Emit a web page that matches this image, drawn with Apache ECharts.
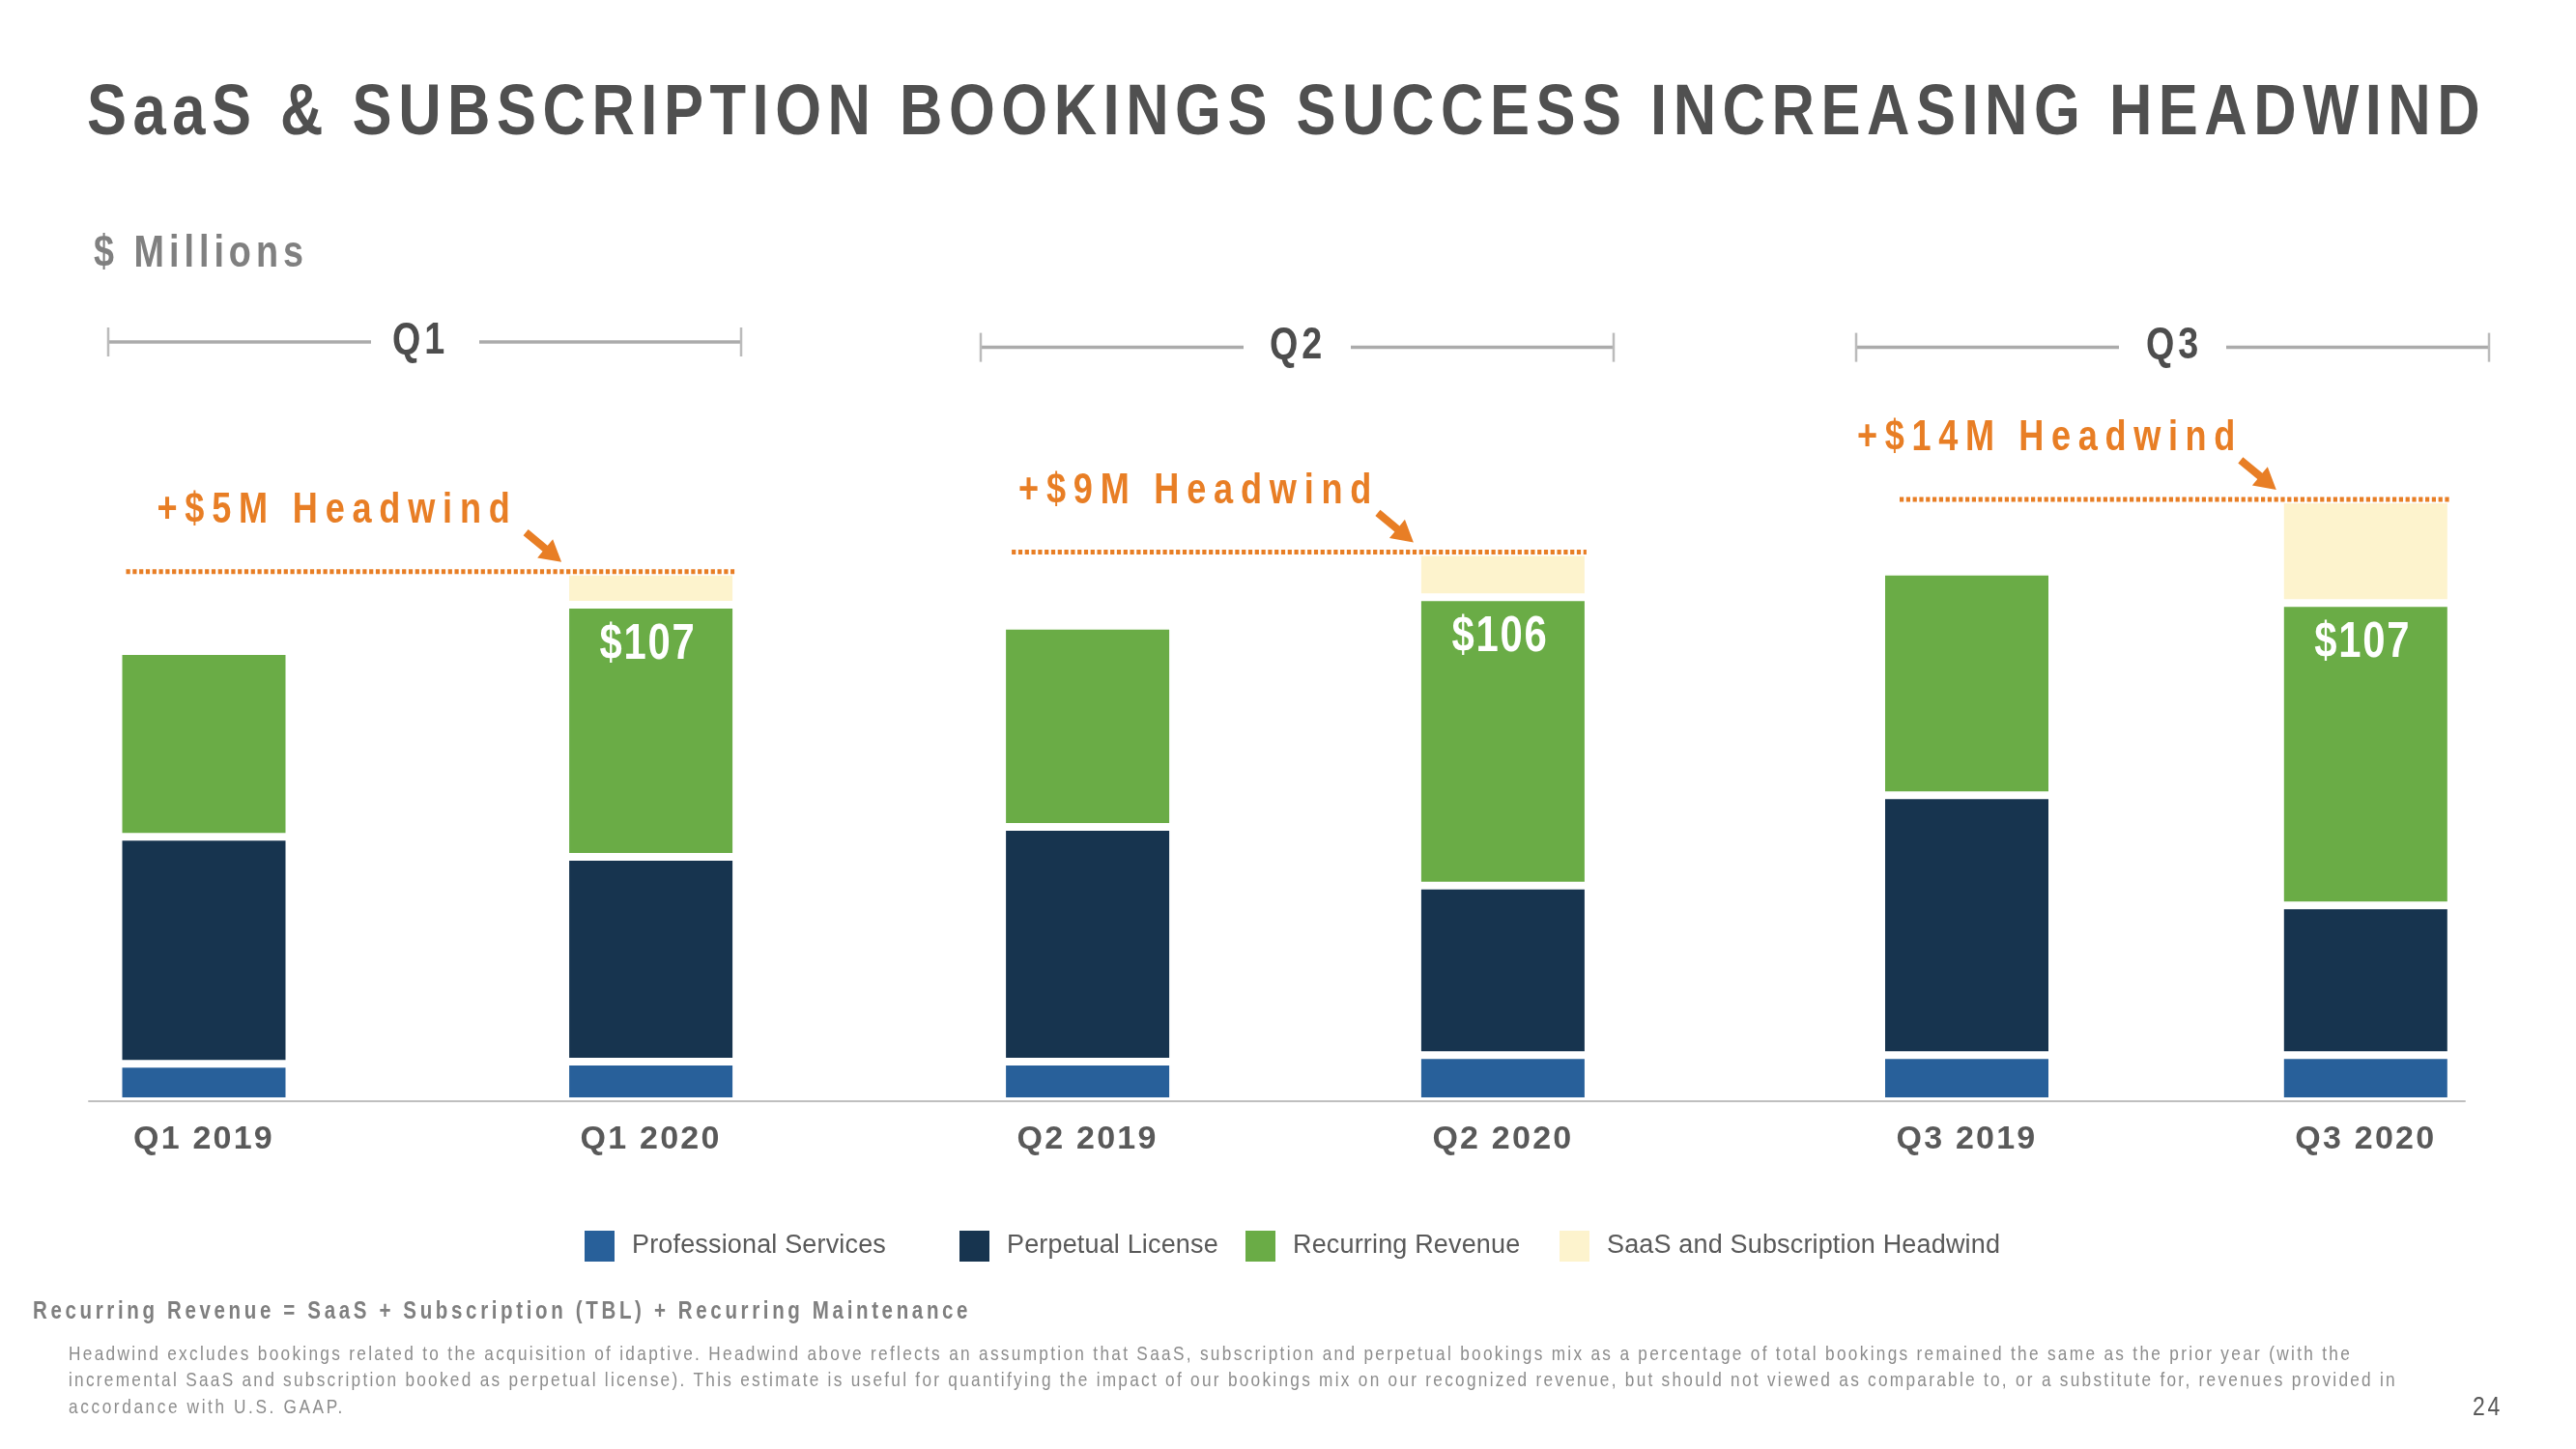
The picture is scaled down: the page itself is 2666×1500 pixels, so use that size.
<!DOCTYPE html>
<html><head><meta charset="utf-8">
<script src="https://cdn.jsdelivr.net/npm/echarts@6/dist/echarts.min.js"></script>
<style>html,body{margin:0;padding:0;background:#fff}#c{width:2666px;height:1500px}</style>
</head><body><div id="c"></div>
<script>
// letter-spacing support: a pseudo family name 'ls-N' in the font string sets canvas letterSpacing
(function(){
  var P = CanvasRenderingContext2D.prototype;
  var d = Object.getOwnPropertyDescriptor(P, 'font');
  if (!d || !d.set) return;
  Object.defineProperty(P, 'font', {
    configurable: true, enumerable: d.enumerable,
    get: function(){ return d.get.call(this); },
    set: function(v){
      d.set.call(this, v);
      var m = /ls-([\d.]+)/.exec(String(v));
      if ('letterSpacing' in this) this.letterSpacing = m ? (m[1] + 'px') : '0px';
    }
  });
})();

// ---------------- data ----------------
const categories = ['Q1 2019', 'Q1 2020', 'Q2 2019', 'Q2 2020', 'Q3 2019', 'Q3 2020'];
const quarters = ['Q1', 'Q2', 'Q3'];
const professionalServices = [8.0, 8.5, 8.5, 9.9, 9.9, 9.9];
const perpetualLicense = [48.7, 43.9, 50.3, 36.3, 55.7, 32.1];
const recurringRevenue = [39.8, 54.0, 43.1, 61.8, 47.9, 64.8];
const saasHeadwind = [null, 7.1, null, 9.7, null, 22.2];
const totalLabels = ['', '$107', '', '$106', '', '$107'];
const headwindLabels = ['+$5M Headwind', '+$9M Headwind', '+$14M Headwind'];
const seriesNames = ['Professional Services', 'Perpetual License', 'Recurring Revenue', 'SaaS and Subscription Headwind'];
const titleText = 'SaaS & SUBSCRIPTION BOOKINGS SUCCESS INCREASING HEADWIND';
const unitText = '$ Millions';
const definitionText = 'Recurring Revenue = SaaS + Subscription (TBL) + Recurring Maintenance';
const noteLines = [
  'Headwind excludes bookings related to the acquisition of idaptive. Headwind above reflects an assumption that SaaS, subscription and perpetual bookings mix as a percentage of total bookings remained the same as the prior year (with the',
  'incremental SaaS and subscription booked as perpetual license). This estimate is useful for quantifying the impact of our bookings mix on our recognized revenue, but should not viewed as comparable to, or a substitute for, revenues provided in',
  'accordance with U.S. GAAP.'
];
const pageNumber = '24';

// ---------------- styles ----------------
const FACE = "'Liberation Sans', Arial, sans-serif";
const fam = ls => "'ls-" + (+ls).toFixed(2) + "', " + FACE;
const mctx = document.createElement('canvas').getContext('2d');
function naturalWidth(t, size, weight) { mctx.font = weight + ' ' + size + 'px ' + FACE; return mctx.measureText(t).width; }
function fitLS(t, size, weight, target, sx) { return Math.max(0, (target / sx - naturalWidth(t, size, weight)) / t.length); }
const NARROW = 0.82;

const colors = ['#28609A', '#17344F', '#6AAC46', '#FDF3CD'];
const ORANGE = '#E87E25';
const valueArrays = [professionalServices, perpetualLicense, recurringRevenue, saasHeadwind];

const gridBox = [
  { left: 211, right: 1992.4 },
  { left: 1125.6, right: 1110.6 },
  { left: 2035.5, right: 217.7 }
];
const TOP = 463.8, BOTTOM = 360, YMAX = 140;

const axisLS = fitLS('Q1 2019', 34, 'bold', 146, 1);
const legendLS = fitLS('Professional Services', 27, 'normal', 263, 1);

const grids = [], xAxes = [], yAxes = [], series = [];
gridBox.forEach((g, q) => {
  grids.push({ left: g.left, right: g.right, top: TOP, bottom: BOTTOM, containLabel: false });
  xAxes.push({
    type: 'category', gridIndex: q, boundaryGap: false,
    data: categories.slice(2 * q, 2 * q + 2),
    axisLine: { show: false }, axisTick: { show: false }, splitLine: { show: false },
    axisLabel: { margin: 22, color: '#595959', fontSize: 34, fontWeight: 'bold', fontFamily: fam(axisLS) }
  });
  yAxes.push({ type: 'value', gridIndex: q, min: 0, max: YMAX, show: false });
  seriesNames.forEach((name, k) => {
    series.push({
      type: 'bar', name: name, xAxisIndex: q, yAxisIndex: q, stack: 'st' + q,
      barWidth: 177,
      data: valueArrays[k].slice(2 * q, 2 * q + 2),
      itemStyle: { color: colors[k], borderColor: '#ffffff', borderWidth: 4 },
      emphasis: { disabled: true }
    });
  });
});
// baseline grid (full-width axis line)
grids.push({ left: 92, right: 115, top: TOP, bottom: BOTTOM });
xAxes.push({ type: 'value', gridIndex: 3, min: 0, max: 1, z: 10,
  axisLine: { show: true, lineStyle: { color: '#BFBFBF', width: 2 } },
  axisTick: { show: false }, axisLabel: { show: false }, splitLine: { show: false } });
yAxes.push({ type: 'value', gridIndex: 3, show: false });

const legendLefts = [605, 993, 1289, 1614];
const legends = seriesNames.map((n, i) => ({
  data: [n], left: legendLefts[i], top: 1274, padding: 0,
  icon: 'rect', itemWidth: 31, itemHeight: 32,
  itemStyle: { borderWidth: 0 },
  textStyle: { fontSize: 27, color: '#595959', fontFamily: fam(legendLS), padding: [0, 0, 0, 13] }
}));

const chart = echarts.init(document.getElementById('c'), null, { renderer: 'canvas' });
chart.setOption({
  backgroundColor: '#ffffff',
  animation: false,
  grid: grids, xAxis: xAxes, yAxis: yAxes, legend: legends, series: series
});

// ---------------- annotations ----------------
const G = [];
// narrow (horizontally condensed) text fitted to a measured width
const stext = (t, x, y, size, weight, target, fill, align) => {
  const ls = fitLS(t, size, weight, target, NARROW);
  return { type: 'text', x: x, y: y, scaleX: NARROW, z: 100, silent: true,
    style: { text: t, x: 0, y: 0, fontSize: size, fontWeight: weight, fontFamily: fam(ls), fill: fill,
             align: align || 'left', verticalAlign: 'middle' } };
};
const line = (x1, y1, x2, y2, w, color, dash) => ({
  type: 'line', z: 100, silent: true,
  shape: { x1: x1, y1: y1, x2: x2, y2: y2 },
  style: { stroke: color, lineWidth: w, lineDash: dash || null }
});
G.push(stext(titleText, 90, 118, 75, 'bold', 2483, '#505050'));
G.push(stext(unitText, 97, 263, 46, 'bold', 222, '#808080'));

// quarter brackets
const brackets = [
  { y: 354, a: 112, b: 384, c: 496, d: 767, tx: 435 },
  { y: 359.6, a: 1015, b: 1287, c: 1398, d: 1670, tx: 1343 },
  { y: 359.6, a: 1921, b: 2193, c: 2304, d: 2576, tx: 2250 }
];
brackets.forEach((br, q) => {
  G.push(line(br.a, br.y, br.b, br.y, 3.5, '#ABABAB'));
  G.push(line(br.c, br.y, br.d, br.y, 3.5, '#ABABAB'));
  G.push(line(br.a, br.y - 15, br.a, br.y + 15, 2.5, '#BBBBBB'));
  G.push(line(br.d, br.y - 15, br.d, br.y + 15, 2.5, '#BBBBBB'));
  G.push(stext(quarters[q], br.tx, br.y - 1, 46, 'bold', 58, '#4D4D4D', 'center'));
});

// headwind dotted lines, labels, arrows and total labels (positions from the chart's scales)
const HALF = 86.5;
const lineInset = [6, 8, 17];
const labelInset = [38, 15, -27];
const labelTargets = [373, 373, 399];
for (let q = 0; q < 3; q++) {
  const i0 = 2 * q, i1 = 2 * q + 1;
  const total = valueArrays.reduce((s, arr) => s + (arr[i1] || 0), 0);
  const stackTop = professionalServices[i1] + perpetualLicense[i1] + recurringRevenue[i1];
  const p0 = chart.convertToPixel({ gridIndex: q }, [categories[i0], 0]);
  const p1 = chart.convertToPixel({ gridIndex: q }, [categories[i1], total]);
  const pr = chart.convertToPixel({ gridIndex: q }, [categories[i1], stackTop]);
  const yTop = p1[1];
  G.push(line(p0[0] - HALF + lineInset[q], yTop, p1[0] + HALF, yTop, 5, ORANGE, [4.2, 2.6]));
  G.push(stext(headwindLabels[q], p0[0] - HALF + labelInset[q], yTop - 63, 44, 'bold', labelTargets[q], ORANGE));
  G.push(stext(totalLabels[i1], pr[0] - 3, pr[1] + 42, 51, 'bold', 100, '#FFFFFF', 'center'));
  // arrow
  const T = [p1[0] - HALF - 6, yTop - 10];
  const L = Math.hypot(35, 29), u = [35 / L, 29 / L], n = [-u[1], u[0]];
  const len = 48, hl = 22, hw = 12.5, sw = 4;
  const pt = (a, b) => [T[0] - u[0] * a + n[0] * b, T[1] - u[1] * a + n[1] * b];
  G.push({ type: 'polygon', z: 100, silent: true,
    shape: { points: [pt(len, sw), pt(hl, sw), pt(hl, hw), pt(0, 0), pt(hl, -hw), pt(hl, -sw), pt(len, -sw)] },
    style: { fill: ORANGE } });
}

// footnotes
G.push(stext(definitionText, 34, 1358, 25, 'bold', 971, '#7F7F7F'));
const noteTargets = [2364, 2410, 286];
noteLines.forEach((t, i) => G.push(stext(t, 71, 1402 + i * 27.5, 21, 'normal', noteTargets[i], '#8C8C8C')));
G.push(stext(pageNumber, 2590, 1457, 28, 'normal', 31, '#595959', 'right'));

chart.setOption({ graphic: G });
</script></body></html>
